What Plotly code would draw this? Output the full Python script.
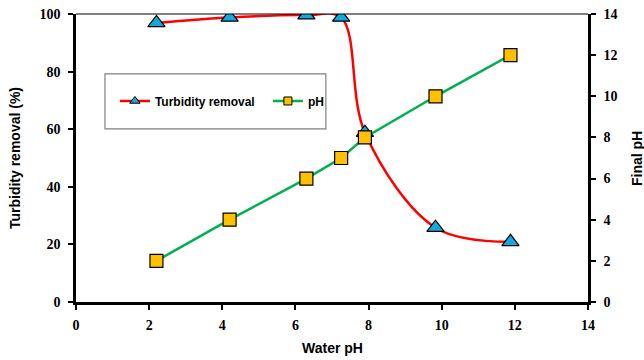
import plotly.graph_objects as go

water_ph = [2.2, 4.2, 6.3, 7.25, 7.9, 9.83, 11.88]
turbidity_removal = [96.9, 98.8, 99.6, 98.8, 58.8, 25.8, 20.9]
final_ph = [2.0, 4.0, 6.0, 7.0, 8.0, 10.0, 12.0]

RED, GREEN, BLUE, YELLOW = "#FF0000", "#00B050", "#13A8DE", "#FFC000"

tick_font = dict(family="Times New Roman, Liberation Serif, DejaVu Serif, serif", size=14,
                 color="black")
title_font = dict(family="Liberation Sans, Arial, sans-serif", size=14, color="black")

fig = go.Figure()
fig.add_trace(go.Scatter(
    x=water_ph, y=turbidity_removal, name="Turbidity removal",
    mode="lines+markers", showlegend=False,
    line=dict(color=RED, width=2.5, shape="spline", smoothing=1.0),
    marker=dict(symbol="triangle-up", size=15, color=BLUE,
                line=dict(color="black", width=1.2)),
    yaxis="y"))
fig.add_trace(go.Scatter(
    x=water_ph, y=final_ph, name="pH",
    mode="lines+markers", showlegend=False,
    line=dict(color=GREEN, width=2.5),
    marker=dict(symbol="square", size=13, color=YELLOW,
                line=dict(color="black", width=1.2)),
    yaxis="y2"))
# legend-only entries with smaller legend symbols
fig.add_trace(go.Scatter(
    x=[None], y=[None], name="<b>Turbidity removal</b>", mode="lines+markers",
    line=dict(color=RED, width=2.5),
    marker=dict(symbol="triangle-up", size=9, color=BLUE, line=dict(color="black", width=1))))
fig.add_trace(go.Scatter(
    x=[None], y=[None], name="<b>pH</b>", mode="lines+markers",
    line=dict(color=GREEN, width=2.5),
    marker=dict(symbol="square", size=8, color=YELLOW, line=dict(color="black", width=1))))

axis_common = dict(showgrid=False, zeroline=False, showline=True, linecolor="black",
                   linewidth=2.5, ticks="outside", ticklen=5, tickwidth=1.5,
                   tickcolor="black", tickfont=tick_font, automargin=False,
                   tickprefix="<b>", ticksuffix="</b>")

fig.update_layout(
    width=644, height=360,
    margin=dict(l=76, r=56, t=14, b=58),
    plot_bgcolor="white", paper_bgcolor="white",
    showlegend=True,
    legend=dict(orientation="h", x=0.076, y=0.698, xanchor="left", yanchor="middle",
                borderwidth=0, bgcolor="rgba(0,0,0,0)",
                font=dict(family="Liberation Sans, Arial, sans-serif", size=12, color="black"),
                entrywidth=108, entrywidthmode="pixels"),
    xaxis=dict(range=[0, 14], dtick=2, ticklabelstandoff=3, **axis_common),
    yaxis=dict(range=[0, 100], dtick=20, ticklabelstandoff=5, **axis_common),
    yaxis2=dict(range=[0, 14], dtick=2, overlaying="y", side="right",
                ticklabelstandoff=5, **axis_common),
)
# top frame line
fig.add_shape(type="line", xref="paper", yref="paper", x0=0, x1=1, y0=1, y1=1,
              line=dict(color="black", width=1))
# legend box
fig.add_shape(type="rect", xref="paper", yref="paper", x0=0.0566, x1=0.488,
              y0=0.601, y1=0.792, line=dict(color="#808080", width=1.2),
              fillcolor="white", layer="below")
# axis titles
fig.add_annotation(text="<b>Water pH</b>", xref="paper", yref="paper", x=0.5, y=-0.16,
                   xanchor="center", yanchor="middle", showarrow=False, font=title_font)
fig.add_annotation(text="<b>Turbidity removal (%)</b>", xref="paper", yref="paper",
                   x=-0.119, y=0.5, xanchor="center", yanchor="middle", textangle=-90,
                   showarrow=False, font=title_font)
fig.add_annotation(text="<b>Final pH</b>", xref="paper", yref="paper",
                   x=1.0957, y=0.5, xanchor="center", yanchor="middle", textangle=-90,
                   showarrow=False, font=title_font)
fig.write_html("out.html")
